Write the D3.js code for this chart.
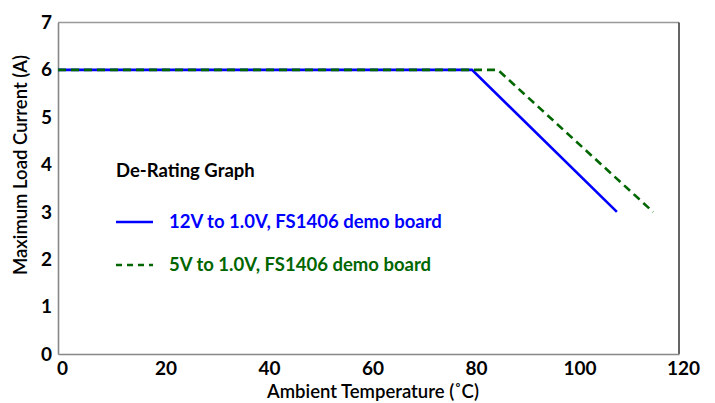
<!DOCTYPE html>
<html>
<head>
<meta charset="utf-8">
<script src="https://cdn.jsdelivr.net/npm/d3@7.9.0/dist/d3.min.js"></script>
<style>
  body { margin: 0; background: #fff; }
  svg { font-family: Lato, "Open Sans", sans-serif; }
</style>
</head>
<body>
<svg id="chart" width="715" height="403"></svg>
<script>
// ======== data ========
const temp12V = [0, 80, 108];
const load12V = [6, 6, 3];
const temp5V = [0, 85, 115];
const load5V = [6, 6, 3];
const xTicks = [0, 20, 40, 60, 80, 100, 120];
const yTicks = [0, 1, 2, 3, 4, 5, 6, 7];
const series = [
  { name: '12V to 1.0V, FS1406 demo board', x: temp12V, y: load12V, color: '#0000ff', dash: null },
  { name: '5V to 1.0V, FS1406 demo board', x: temp5V, y: load5V, color: '#006600', dash: '8,5' }
];

// ======== layout ========
const svg = d3.select('#chart');
const L = 58, R = 679, T = 22.5, B = 354;
const x = d3.scaleLinear().domain([0, 120]).range([L, R]);
const y = d3.scaleLinear().domain([0, 7]).range([B, T]);

// frame
svg.append('line').attr('x1', L).attr('x2', R).attr('y1', T).attr('y2', T)
  .attr('stroke', '#999').attr('stroke-width', 1.3);
svg.append('line').attr('x1', R).attr('x2', R).attr('y1', T).attr('y2', B)
  .attr('stroke', '#111').attr('stroke-width', 1.3);

// axes
const xAxis = svg.append('g').attr('transform', `translate(0,${B})`)
  .call(d3.axisBottom(x).tickValues(xTicks).tickFormat(d3.format('d')).tickSize(0).tickPadding(8));
const yAxis = svg.append('g').attr('transform', `translate(${L},0)`)
  .call(d3.axisLeft(y).tickValues(yTicks).tickFormat(d3.format('d')).tickSize(0).tickPadding(6));
[xAxis, yAxis].forEach(g => {
  g.select('.domain').attr('stroke', '#888').attr('stroke-width', 1.6);
  g.selectAll('text').attr('font-family', 'Lato, sans-serif')
    .attr('font-size', 19).attr('font-weight', 'bold').attr('fill', '#000');
});
xAxis.selectAll('text').attr('dx', 4);

// lines
const line = d3.line().x(d => x(d[0])).y(d => y(d[1]));
series.forEach(s => {
  svg.append('path')
    .datum(s.x.map((v, i) => [v, s.y[i]]))
    .attr('d', line)
    .attr('fill', 'none')
    .attr('stroke', s.color)
    .attr('stroke-width', 2.6)
    .attr('stroke-dasharray', s.dash);
});

// axis titles
svg.append('text').attr('x', 373).attr('y', 398).attr('text-anchor', 'middle')
  .attr('font-size', 18.5).attr('font-weight', 600).text('Ambient Temperature (˚C)');
svg.append('text').attr('transform', 'translate(27,165) rotate(-90)')
  .attr('text-anchor', 'middle')
  .attr('font-size', 18.5).attr('font-weight', 600).text('Maximum Load Current (A)');

// legend
svg.append('text').attr('x', 116).attr('y', 177)
  .attr('font-size', 18.5).attr('font-weight', 'bold').text('De-Rating Graph');
const legY = [222, 265];
series.forEach((s, i) => {
  svg.append('line').attr('x1', 116).attr('x2', 153).attr('y1', legY[i]).attr('y2', legY[i])
    .attr('stroke', s.color).attr('stroke-width', 2.6).attr('stroke-dasharray', s.dash ? '6,5' : null);
  svg.append('text').attr('x', 169).attr('y', legY[i] + 6)
    .attr('font-size', 18.5).attr('font-weight', 'bold').attr('fill', s.color).text(s.name);
});
</script>
</body>
</html>
